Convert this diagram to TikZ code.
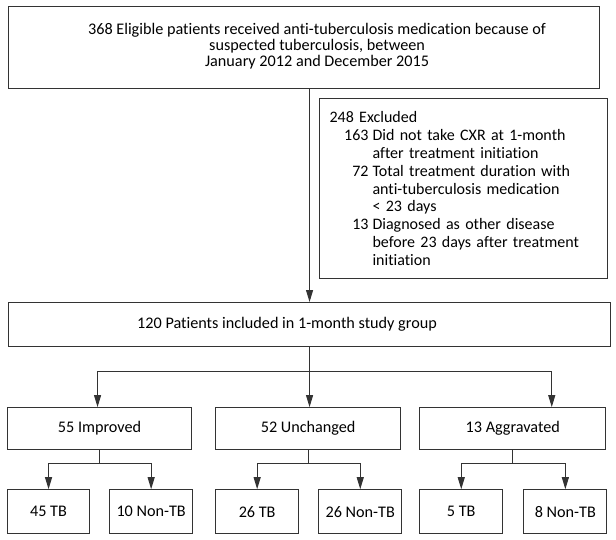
\documentclass[tikz,border=0pt]{standalone}
\usepackage{fontspec}
\setmainfont{Carlito}[Ligatures={NoCommon}]
\usepackage{tikz}
\usetikzlibrary{positioning,arrows.meta}

\newcommand{\exitem}[2]{\makebox[39pt][r]{#1}\hspace{4pt}#2}

\begin{document}
\begin{tikzpicture}[
    box/.style={rectangle, draw=black!80, line width=1.1pt, align=center, inner sep=0pt,
        font=\fontsize{16.2}{17}\selectfont},
    leaf/.style={box, minimum width=83pt, minimum height=44pt},
    arrow/.style={-{Triangle[length=12pt,width=7pt]}, draw=black!80, line width=1pt},
    link/.style={draw=black!80, line width=1pt}
]
    \useasboundingbox (0,0) rectangle (616pt,-539pt);

    % Screening
    \node[box, anchor=north west, minimum width=591pt, minimum height=82pt,
        font=\fontsize{16.2}{15.5}\selectfont] (elig) at (8pt,-6pt)
        {\hspace*{26pt}\begin{tabular}{@{}c@{}}368 Eligible patients received anti-tuberculosis medication because of\\
        suspected tuberculosis, between\\
        January 2012 and December 2015\end{tabular}};
    \node[box, anchor=north west, minimum width=288pt, minimum height=180pt,
        text width=268pt, inner xsep=10pt, align=left,
        font=\fontsize{16}{17.8}\selectfont] (excl) at (319pt,-98pt)
        {248 Excluded\\
        \exitem{163}{Did not take CXR at 1-month}\\
        \exitem{}{after treatment initiation}\\
        \exitem{72}{Total treatment duration with}\\
        \exitem{}{anti-tuberculosis medication}\\
        \exitem{}{< 23 days}\\
        \exitem{13}{Diagnosed as other disease}\\
        \exitem{}{before 23 days after treatment}\\
        \exitem{}{initiation}};

    % Study group
    \node[box, anchor=north west, minimum width=602pt, minimum height=44pt] (study) at (8pt,-302pt)
        {120 Patients included in 1-month study group\hspace*{45pt}};

    % Response at 1 month
    \node[box, below right=60pt and -1pt of study.south west, minimum width=184pt, minimum height=42pt] (improved) {55 Improved};
    \node[box, right=23pt of improved, minimum width=185pt, minimum height=42pt] (unchanged) {52 Unchanged};
    \node[box, right=18pt of unchanged, minimum width=186pt, minimum height=42pt] (aggravated) {13 Aggravated};

    % Final diagnosis
    \node[leaf, below right=39pt and 0pt of improved.south west, minimum width=82pt] (tbA) {45 TB};
    \node[leaf, right=19pt of tbA] (ntbA) {10 Non-TB};
    \node[leaf, below right=39pt and 0pt of unchanged.south west] (tbB) {26 TB};
    \node[leaf, right=19pt of tbB] (ntbB) {26 Non-TB};
    \node[leaf, below right=39pt and 0pt of aggravated.south west] (tbC) {5 TB};
    \node[leaf, right=20pt of tbC] (ntbC) {8 Non-TB};

    % Arrows
    \draw[arrow] (study.north |- elig.south) -- (study.north);

    \coordinate[below=24pt of study.south] (split);
    \coordinate[right=39pt of aggravated.north] (aggin);
    \draw[link] (study.south) -- (split);
    \draw[arrow] (split) -| ([xshift=-2pt]improved.north);
    \draw[arrow] (split) -- (split |- unchanged.north);
    \draw[arrow] (split) -| (aggin);

    \coordinate[below=13pt of improved.south] (forkA);
    \coordinate[below=13pt of unchanged.south] (forkB);
    \coordinate[below=13pt of aggravated.south] (forkC);
    \draw[link] (improved.south) -- (forkA);
    \draw[arrow] (forkA) -| (tbA.north);
    \draw[arrow] (forkA) -| (ntbA.north);
    \draw[link] (unchanged.south) -- (forkB);
    \draw[arrow] (forkB) -| (tbB.north);
    \draw[arrow] (forkB) -| (ntbB.north);
    \draw[link] (aggravated.south) -- (forkC);
    \draw[arrow] (forkC) -| (tbC.north);
    \draw[arrow] (forkC) -| (ntbC.north);

\end{tikzpicture}
\end{document}
